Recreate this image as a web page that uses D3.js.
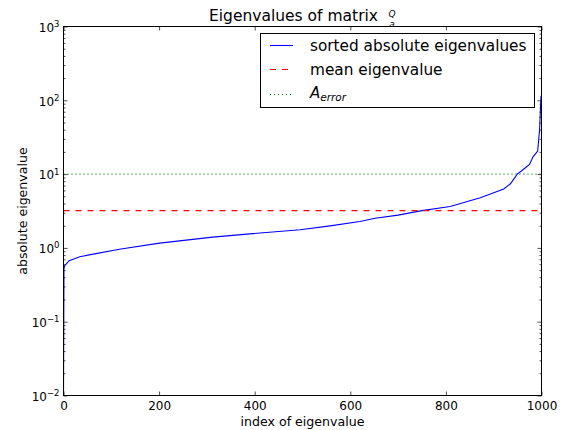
<!DOCTYPE html>
<html><head><meta charset="utf-8">
<script src="https://cdn.jsdelivr.net/npm/d3@7"></script>
<style>
body{margin:0;background:#fff}
text{font-family:"DejaVu Sans",sans-serif;fill:#000}
</style>
</head><body>
<svg id="c" width="573" height="430"></svg>
<script>
// ---- data ----
const eigIndex = [0, 1, 3, 12, 34, 65, 117, 201, 312, 390, 495, 558, 620, 652, 700, 750, 809, 872, 921, 935, 945, 949, 958, 965, 975, 982, 992, 996, 999];
const eigValue = [0.01, 0.53, 0.58, 0.67, 0.76, 0.83, 0.96, 1.16, 1.40, 1.55, 1.76, 1.99, 2.28, 2.52, 2.78, 3.2, 3.64, 4.77, 6.3, 7.4, 9.1, 10.0, 11.0, 12.0, 13.5, 17.0, 20.5, 40.0, 115.0];
const meanEigenvalue = [3.2];
const errorLevel = [10];
const xTicks = [0, 200, 400, 600, 800, 1000];
const yTickExponents = [-2, -1, 0, 1, 2, 3];
const legendLabels = ["sorted absolute eigenvalues", "mean eigenvalue", "A", "error"];
const titleText = "Eigenvalues of matrix";
const xLabel = "index of eigenvalue";
const yLabel = "absolute eigenvalue";

// ---- layout ----
const svg = d3.select("#c");
const L = 63.5, R = 541.5, T = 26.5, B = 395.5;
const x = d3.scaleLinear().domain([0, 1000]).range([L, R]);
const y = d3.scaleLog().domain([1e-2, 1e3]).range([B, T]);

const yMajor = yTickExponents.map(e => Math.pow(10, e));
const yMinor = [];
yTickExponents.slice(0, -1).forEach(e => { for (let k = 2; k <= 9; k++) yMinor.push(k * Math.pow(10, e)); });

// clip
svg.append("clipPath").attr("id", "clip").append("rect")
  .attr("x", L).attr("y", T).attr("width", R - L).attr("height", B - T);

// series
const g = svg.append("g").attr("clip-path", "url(#clip)");
const pts = eigIndex.map((d, i) => [d, eigValue[i]]);
g.append("path").datum(pts)
  .attr("d", d3.line().x(d => x(d[0])).y(d => y(d[1])))
  .attr("fill", "none").attr("stroke", "#0000ff").attr("stroke-width", 1.1);
g.selectAll(".mean").data(meanEigenvalue).join("line")
  .attr("x1", L).attr("x2", R).attr("y1", d => y(d)).attr("y2", d => y(d))
  .attr("stroke", "#ff0000").attr("stroke-width", 1.1).attr("stroke-dasharray", "6,6");
g.selectAll(".err").data(errorLevel).join("line")
  .attr("x1", L).attr("x2", R).attr("y1", d => y(d)).attr("y2", d => y(d))
  .attr("stroke", "#008000").attr("stroke-width", 1.1).attr("stroke-dasharray", "1,3");

// axes
function styleAxis(sel) {
  sel.select(".domain").remove();
  sel.selectAll(".tick line").attr("stroke", "#000").attr("stroke-width", 0.7);
}
const xb = svg.append("g").attr("transform", `translate(0,${B})`)
  .call(d3.axisBottom(x).tickValues(xTicks).tickSizeInner(-4).tickSizeOuter(0).tickPadding(6).tickFormat(d3.format("d")));
styleAxis(xb);
xb.selectAll(".tick text").attr("font-size", 12).attr("font-family", "DejaVu Sans").attr("fill", "#000");

const xt = svg.append("g").attr("transform", `translate(0,${T})`)
  .call(d3.axisTop(x).tickValues(xTicks).tickSizeInner(-4).tickSizeOuter(0).tickFormat(""));
styleAxis(xt);

const yl = svg.append("g").attr("transform", `translate(${L},0)`)
  .call(d3.axisLeft(y).tickValues(yMajor).tickSizeInner(-4).tickSizeOuter(0).tickPadding(4).tickFormat(""));
styleAxis(yl);
yl.selectAll(".tick text").each(function (d) {
  const t = d3.select(this).attr("dy", null).attr("y", 4.7).attr("font-size", 12).attr("fill", "#000");
  const e = Math.round(Math.log10(d));
  t.text(null);
  t.append("tspan").text("10");
  t.append("tspan").attr("font-size", 8.5).attr("dy", -4.7).text(String(e).replace("-", "\u2212"));
});
const ylm = svg.append("g").attr("transform", `translate(${L},0)`)
  .call(d3.axisLeft(y).tickValues(yMinor).tickSizeInner(-2).tickSizeOuter(0).tickFormat(""));
styleAxis(ylm);

const yr = svg.append("g").attr("transform", `translate(${R},0)`)
  .call(d3.axisRight(y).tickValues(yMajor).tickSizeInner(-4).tickSizeOuter(0).tickFormat(""));
styleAxis(yr);
const yrm = svg.append("g").attr("transform", `translate(${R},0)`)
  .call(d3.axisRight(y).tickValues(yMinor).tickSizeInner(-2).tickSizeOuter(0).tickFormat(""));
styleAxis(yrm);

// frame
svg.append("rect").attr("x", L).attr("y", T).attr("width", R - L).attr("height", B - T)
  .attr("fill", "none").attr("stroke", "#000").attr("stroke-width", 1);

// title
svg.append("text").attr("x", 378).attr("y", 21).attr("text-anchor", "end")
  .attr("font-size", 15.5).text(titleText);
svg.append("text").attr("x", 392).attr("y", 16.5).attr("text-anchor", "middle")
  .attr("font-family", "Liberation Serif").attr("font-style", "italic").attr("font-size", 9).text("Q");
svg.append("text").attr("x", 392).attr("y", 27).attr("text-anchor", "middle")
  .attr("font-family", "Liberation Serif").attr("font-style", "italic").attr("font-size", 9).text("a");

// axis labels
svg.append("text").attr("x", (L + R) / 2).attr("y", 426).attr("text-anchor", "middle")
  .attr("font-size", 12.6).text(xLabel);
svg.append("text").attr("transform", `translate(26.5,${(T + B) / 2}) rotate(-90)`).attr("text-anchor", "middle")
  .attr("font-size", 12.6).text(yLabel);

// legend
const lg = svg.append("g");
lg.append("rect").attr("x", 260.5).attr("y", 33.5).attr("width", 274).attr("height", 74)
  .attr("fill", "#fff").attr("stroke", "#000").attr("stroke-width", 1);
const rows = [
  {y: 45.5, color: "#0000ff", dash: null},
  {y: 69.5, color: "#ff0000", dash: "6,6"},
  {y: 94.5, color: "#008000", dash: "1,3"}
];
rows.forEach((r, i) => {
  lg.append("line").attr("x1", 270).attr("x2", 293).attr("y1", r.y).attr("y2", r.y)
    .attr("stroke", r.color).attr("stroke-width", 1.1).attr("stroke-dasharray", r.dash);
});
lg.append("text").attr("x", 310).attr("y", 45.5 + 5.3).attr("font-size", 15.3).text(legendLabels[0]);
lg.append("text").attr("x", 310).attr("y", 69.5 + 5.3).attr("font-size", 15.3).text(legendLabels[1]);
const at = lg.append("text").attr("x", 310).attr("y", 98)
  .attr("font-family", "Liberation Serif").attr("font-style", "italic").attr("font-size", 15);
at.append("tspan").text(legendLabels[2]);
at.append("tspan").attr("font-size", 10.5).attr("dy", 2.5).text(legendLabels[3]);
</script>
</body></html>
